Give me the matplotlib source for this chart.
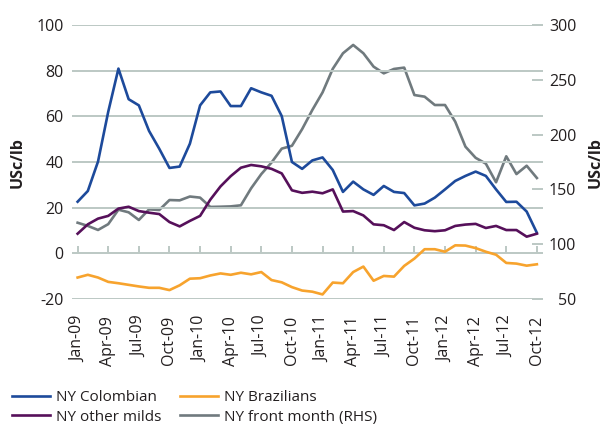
import numpy as np
import matplotlib
matplotlib.use("Agg")
import matplotlib.pyplot as plt

plt.rcParams["font.family"] = ["Open Sans", "DejaVu Sans"]
plt.rcParams["axes.unicode_minus"] = False

# monthly, Jan-09 .. Oct-12
months = ["Jan", "Feb", "Mar", "Apr", "May", "Jun",
          "Jul", "Aug", "Sep", "Oct", "Nov", "Dec"]
dates = [f"{m}-{y:02d}" for y in range(9, 13) for m in months][:46]

colombian = [22.6, 27.3, 40.2, 62.0, 80.9, 67.5, 64.8, 53.6, 45.8, 37.4,
             38.0, 48.0, 64.8, 70.5, 70.9, 64.5, 64.5, 72.3, 70.5, 69.0,
             60.1, 40.0, 37.0, 40.7, 42.0, 36.5, 26.9, 31.4, 28.0, 25.6,
             29.5, 26.9, 26.4, 21.0, 21.8, 24.4, 28.0, 31.7, 33.9, 35.8,
             33.9, 28.0, 22.5, 22.6, 18.3, 9.0]
others = [8.6, 12.7, 15.2, 16.4, 19.6, 20.4, 18.5, 17.8, 17.2, 13.7,
          11.8, 14.2, 16.4, 23.5, 29.3, 33.8, 37.5, 38.7, 38.1, 37.0,
          35.0, 27.6, 26.5, 27.0, 26.3, 28.0, 18.3, 18.5, 16.6, 12.7,
          12.3, 10.2, 13.7, 11.2, 10.1, 9.7, 10.1, 12.0, 12.6, 12.9,
          11.1, 12.0, 10.2, 10.2, 7.3, 8.6]
brazilians = [-10.6, -9.4, -10.6, -12.5, -13.1, -13.8, -14.5, -15.1, -15.1, -16.1,
              -14.0, -11.1, -10.9, -9.7, -8.8, -9.4, -8.5, -9.2, -8.2, -11.7,
              -12.7, -14.8, -16.3, -16.8, -18.0, -12.8, -13.1, -8.2, -5.8, -12.0,
              -9.9, -10.2, -5.5, -2.3, 1.8, 1.8, 0.7, 3.5, 3.4, 2.3,
              0.7, -0.6, -4.2, -4.5, -5.4, -4.8]
front_month = [119.6, 116.7, 113.0, 118.3, 131.5, 129.1, 122.1, 131.8, 131.2, 140.3,
               140.0, 143.5, 142.5, 134.0, 134.2, 134.5, 135.5, 151.0, 164.0, 174.5,
               187.2, 189.8, 205.0, 222.5, 238.5, 260.0, 274.2, 281.8, 274.2, 262.0,
               255.9, 259.9, 261.1, 236.1, 234.6, 227.0, 227.0, 211.8, 189.0, 178.8,
               173.5, 156.5, 180.2, 164.0, 171.6, 160.4]

GRID = "#bcc8c4"
TXT = "#231f20"
x = np.arange(len(dates))

fig = plt.figure(figsize=(6.04, 4.29), dpi=100)
ax = fig.add_axes([72 / 604, 1 - 299 / 429, 471 / 604, 274 / 429])
ax2 = ax.twinx()

ax.plot(x, colombian, color="#1d4a9b", lw=1.9, label="NY Colombian", zorder=3)
ax.plot(x, others, color="#56105a", lw=1.9, label="NY other milds", zorder=3)
ax.plot(x, brazilians, color="#f7a32d", lw=1.9, label="NY Brazilians", zorder=3)
ax2.plot(x, front_month, color="#707a7e", lw=1.9, label="NY front month (RHS)")

ax.set_xlim(-0.55, 45.6)
ax.set_ylim(-20, 100)
ax2.set_ylim(50, 300)
ax.set_yticks(np.arange(-20, 101, 20))
ax2.set_yticks(np.arange(50, 301, 50))
ax.grid(axis="y", color=GRID, lw=1.4)
ax.set_axisbelow(True)
ax.set_zorder(ax2.get_zorder() + 1)
ax.patch.set_visible(False)

ax.set_xticks(x[::3])
ax.set_xticklabels(dates[::3], rotation=90)
ax.tick_params(axis="x", length=0, pad=12, labelsize=11.5, labelcolor=TXT)
ax.tick_params(axis="y", length=0, pad=6, labelsize=11.5, labelcolor=TXT)
ax2.tick_params(axis="y", direction="in", length=8, width=1.4, color=GRID,
                pad=24, labelsize=11.5, labelcolor=TXT)
for lab in ax2.get_yticklabels():
    lab.set_ha("right")

# tick marks sit on the zero line
sec = ax.secondary_xaxis(1 / 6)
sec.set_xticks(x[::3])
sec.tick_params(axis="x", direction="in", length=5, width=1.4, color=GRID,
                labelbottom=False)
sec.spines["bottom"].set_visible(False)

for a in (ax, ax2):
    for s in a.spines.values():
        s.set_visible(False)

fig.text(18 / 604, 1 - 163 / 429, "USc/lb", rotation=90, ha="center", va="center",
         fontsize=11.5, fontweight="bold", color=TXT)
fig.text(596 / 604, 1 - 163 / 429, "USc/lb", rotation=90, ha="center", va="center",
         fontsize=11.5, fontweight="bold", color=TXT)

h1, l1 = ax.get_legend_handles_labels()
h2, l2 = ax2.get_legend_handles_labels()
leg = fig.legend(h1 + h2, l1 + l2, ncol=2, loc="upper left",
                 bbox_to_anchor=(12 / 604, 1 - 390 / 429),
                 frameon=False, fontsize=11, handlelength=2.5, handletextpad=0.4,
                 columnspacing=1.2, borderpad=0, borderaxespad=0, labelspacing=0.3)
for t in leg.get_texts():
    t.set_color(TXT)

fig.savefig("out.png", dpi=100)
